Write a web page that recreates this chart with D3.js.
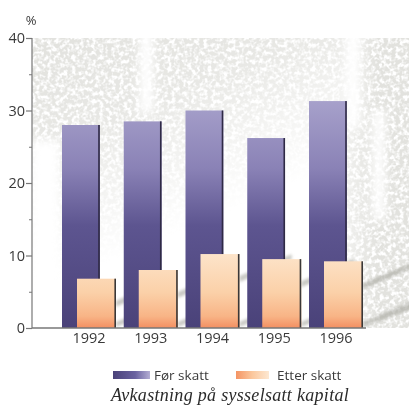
<!DOCTYPE html>
<html>
<head>
<meta charset="utf-8">
<script src="https://cdn.jsdelivr.net/npm/d3@7"></script>
<style>
  html, body { margin: 0; padding: 0; background: #fff; }
  svg { display: block; }
</style>
</head>
<body>
<svg id="chart" width="409" height="414"></svg>
<script>
// Return on employed capital, before and after tax (%)
const years = ["1992", "1993", "1994", "1995", "1996"];
const beforeTax = [28.0, 28.5, 30.0, 26.2, 31.3];
const afterTax = [6.8, 8.0, 10.2, 9.5, 9.2];
const yTicks = [0, 10, 20, 30, 40];
const yMinorTicks = [5, 15, 25, 35];
const legendLabels = ["Før skatt", "Etter skatt"];
const title = "Avkastning på sysselsatt kapital";

const svg = d3.select("#chart");
const plotLeft = 32, plotTop = 38, plotBottom = 328, plotRight = 409;

const y = d3.scaleLinear().domain([0, 40]).range([plotBottom, plotTop]);
const x = d3.scaleBand().domain(years).range([62, 363]).paddingInner(0.1255).paddingOuter(0);
const bw = x.bandwidth();
const purpleW = bw * 0.70;
const orangeW = 39;
const orangeOff = bw - orangeW;

const defs = svg.append("defs");

// speckled grey paper texture
const f = defs.append("filter").attr("id", "speckle")
  .attr("x", 0).attr("y", 0).attr("width", "100%").attr("height", "100%");
f.append("feTurbulence").attr("type", "fractalNoise").attr("baseFrequency", "0.25")
  .attr("numOctaves", 3).attr("seed", 7).attr("result", "n");
f.append("feColorMatrix").attr("in", "n").attr("type", "matrix")
  .attr("values", "0 0 0 0 0.76  0 0 0 0 0.76  0 0 0 0 0.73  0 0 0 -3.6 2.5")
  .attr("result", "c");

const softBlur = defs.append("filter").attr("id", "soft");
softBlur.append("feGaussianBlur").attr("stdDeviation", 1.4);
const wideBlur = defs.append("filter").attr("id", "wide")
  .attr("x", "-50%").attr("y", "-50%").attr("width", "200%").attr("height", "200%");
wideBlur.append("feGaussianBlur").attr("stdDeviation", 5);

// where the texture shows: heavy along the top and at the right, fading to lower left
const mg = defs.append("linearGradient").attr("id", "maskGrad")
  .attr("x1", 0).attr("y1", 0).attr("x2", 0.55).attr("y2", 1);
mg.append("stop").attr("offset", 0).attr("stop-color", "#fff");
mg.append("stop").attr("offset", 0.3).attr("stop-color", "#ccc");
mg.append("stop").attr("offset", 0.68).attr("stop-color", "#000");
const mg2 = defs.append("linearGradient").attr("id", "maskGrad2")
  .attr("x1", 0).attr("y1", 0).attr("x2", 1).attr("y2", 0);
mg2.append("stop").attr("offset", 0.74).attr("stop-color", "#000");
mg2.append("stop").attr("offset", 0.92).attr("stop-color", "#fff");
const mask = defs.append("mask").attr("id", "texMask");
mask.append("rect").attr("x", plotLeft).attr("y", plotTop).attr("width", plotRight - plotLeft).attr("height", plotBottom - plotTop)
  .attr("fill", "url(#maskGrad)");
mask.append("rect").attr("x", plotLeft).attr("y", plotTop).attr("width", plotRight - plotLeft).attr("height", plotBottom - plotTop)
  .attr("fill", "url(#maskGrad2)").style("mix-blend-mode", "lighten");
// light streaks through the texture
const streaks = mask.append("g").attr("fill", "#000").attr("filter", "url(#wide)");
streaks.append("rect").attr("x", 140).attr("y", plotTop - 10).attr("width", 13).attr("height", 85);
streaks.append("rect").attr("x", 346).attr("y", plotTop - 10).attr("width", 14).attr("height", 100);
streaks.append("rect").attr("x", 373).attr("y", 110).attr("width", 12).attr("height", 110);
streaks.append("rect").attr("x", 30).attr("y", 140).attr("width", 30).attr("height", 190);

svg.append("rect").attr("x", plotLeft).attr("y", plotTop).attr("width", plotRight - plotLeft).attr("height", plotBottom - plotTop)
  .attr("filter", "url(#speckle)").attr("mask", "url(#texMask)");

// bar gradients
const pg = defs.append("linearGradient").attr("id", "purpleGrad")
  .attr("gradientUnits", "userSpaceOnUse").attr("x1", 0).attr("y1", 100).attr("x2", 0).attr("y2", plotBottom);
[[0, "#a7a1cb"], [0.3, "#8a82b6"], [0.55, "#5d5590"], [1, "#4a4279"]].forEach(([o, c]) =>
  pg.append("stop").attr("offset", o).attr("stop-color", c));
const og = defs.append("linearGradient").attr("id", "orangeGrad")
  .attr("gradientUnits", "userSpaceOnUse").attr("x1", 0).attr("y1", 250).attr("x2", 0).attr("y2", plotBottom);
[[0, "#fde6cd"], [0.55, "#fbd0a8"], [0.85, "#f8b486"], [1, "#f38f62"]].forEach(([o, c]) =>
  og.append("stop").attr("offset", o).attr("stop-color", c));

// legend swatch gradients
const lp = defs.append("linearGradient").attr("id", "legP").attr("x1", 0).attr("x2", 1);
lp.append("stop").attr("offset", 0).attr("stop-color", "#4a4279");
lp.append("stop").attr("offset", 0.6).attr("stop-color", "#6a62a0");
lp.append("stop").attr("offset", 1).attr("stop-color", "#b4aed4");
const lo = defs.append("linearGradient").attr("id", "legO").attr("x1", 0).attr("x2", 1);
lo.append("stop").attr("offset", 0).attr("stop-color", "#f49464");
lo.append("stop").attr("offset", 0.5).attr("stop-color", "#fbc89e");
lo.append("stop").attr("offset", 1).attr("stop-color", "#fde8d2");

// cast shadows of the bars on the backdrop
const shadow = svg.append("g").attr("fill", "#a4a49c").attr("opacity", 0.6).attr("filter", "url(#soft)");
years.forEach((yr, i) => {
  const x0 = x(yr) + bw;
  const yb = y(0) - 6;
  const len = 58, slope = 0.42, thick = 8;
  shadow.append("path").attr("d",
    `M${x0},${yb} L${x0 + len},${yb - len * slope} L${x0 + len},${yb - len * slope + thick} L${x0},${yb + thick * 0.6}Z`);
  const yh = y(afterTax[i]) + 22;
  shadow.append("path").attr("d",
    `M${x0},${yh} L${x0 + len * 0.9},${yh - len * 0.9 * slope} L${x0 + len * 0.9},${yh - len * 0.9 * slope + 5} L${x0},${yh + 6}Z`);
});

// bars
const g = svg.append("g");
years.forEach((yr, i) => {
  const bx = x(yr);
  g.append("rect").attr("x", bx).attr("y", y(beforeTax[i]))
    .attr("width", purpleW).attr("height", y(0) - y(beforeTax[i])).attr("fill", "url(#purpleGrad)");
  g.append("rect").attr("x", bx + purpleW - 1.6).attr("y", y(beforeTax[i]))
    .attr("width", 1.6).attr("height", y(0) - y(beforeTax[i])).attr("fill", "#2f2a45");
  const ox = bx + orangeOff;
  g.append("rect").attr("x", ox).attr("y", y(afterTax[i]))
    .attr("width", orangeW).attr("height", y(0) - y(afterTax[i])).attr("fill", "url(#orangeGrad)");
  g.append("rect").attr("x", ox + orangeW - 1.6).attr("y", y(afterTax[i]))
    .attr("width", 1.6).attr("height", y(0) - y(afterTax[i])).attr("fill", "#3a3838");
});

// axes
const axisColor = "#777";
const textColor = "#3a3a3a";
const font = "'Open Sans', 'DejaVu Sans', sans-serif";

const yAxis = d3.axisLeft(y).tickValues(yTicks).tickSize(6).tickPadding(1).tickFormat(d3.format("d"));
const ya = svg.append("g").attr("transform", `translate(${plotLeft},0)`).call(yAxis);
ya.select(".domain").attr("stroke", axisColor).attr("stroke-width", 1.2).attr("d", `M0,${plotTop}V${plotBottom}`);
ya.selectAll(".tick line").attr("stroke", axisColor).attr("stroke-width", 1.2);
ya.selectAll(".tick text").attr("fill", textColor).style("font-family", font).style("font-size", "14.5px");

const yMinor = d3.axisLeft(y).tickValues(yMinorTicks).tickSize(3).tickFormat("");
const ym = svg.append("g").attr("transform", `translate(${plotLeft},0)`).call(yMinor);
ym.select(".domain").remove();
ym.selectAll(".tick line").attr("stroke", axisColor).attr("stroke-width", 1);

// baseline
svg.append("line").attr("x1", plotLeft).attr("x2", 366).attr("y1", y(0)).attr("y2", y(0))
  .attr("stroke", axisColor).attr("stroke-width", 1.3);

// year labels
const xAxis = d3.axisBottom(x).tickSize(0).tickPadding(5);
const xa = svg.append("g").attr("transform", `translate(0,${y(0)})`).call(xAxis);
xa.select(".domain").remove();
xa.selectAll(".tick text").attr("fill", textColor).style("font-family", font).style("font-size", "14.5px");

// unit label
svg.append("text").attr("x", 31).attr("y", 25).attr("text-anchor", "middle")
  .attr("fill", textColor).style("font-family", font).style("font-size", "13px").text("%");

// legend
const leg = svg.append("g");
leg.append("rect").attr("x", 113).attr("y", 371).attr("width", 37).attr("height", 8).attr("fill", "url(#legP)");
leg.append("text").attr("x", 154).attr("y", 380).attr("fill", textColor)
  .style("font-family", font).style("font-size", "13.5px").text(legendLabels[0]);
leg.append("rect").attr("x", 236).attr("y", 371).attr("width", 33).attr("height", 8).attr("fill", "url(#legO)");
leg.append("text").attr("x", 277).attr("y", 380).attr("fill", textColor)
  .style("font-family", font).style("font-size", "13.5px").text(legendLabels[1]);

// caption
svg.append("text").attr("x", 230).attr("y", 401).attr("text-anchor", "middle")
  .attr("fill", "#2a2a2a").style("font-family", "'Liberation Serif', 'DejaVu Serif', serif")
  .style("font-style", "italic").style("font-size", "18px").style("letter-spacing", "0.3px").text(title);
</script>
</body>
</html>
